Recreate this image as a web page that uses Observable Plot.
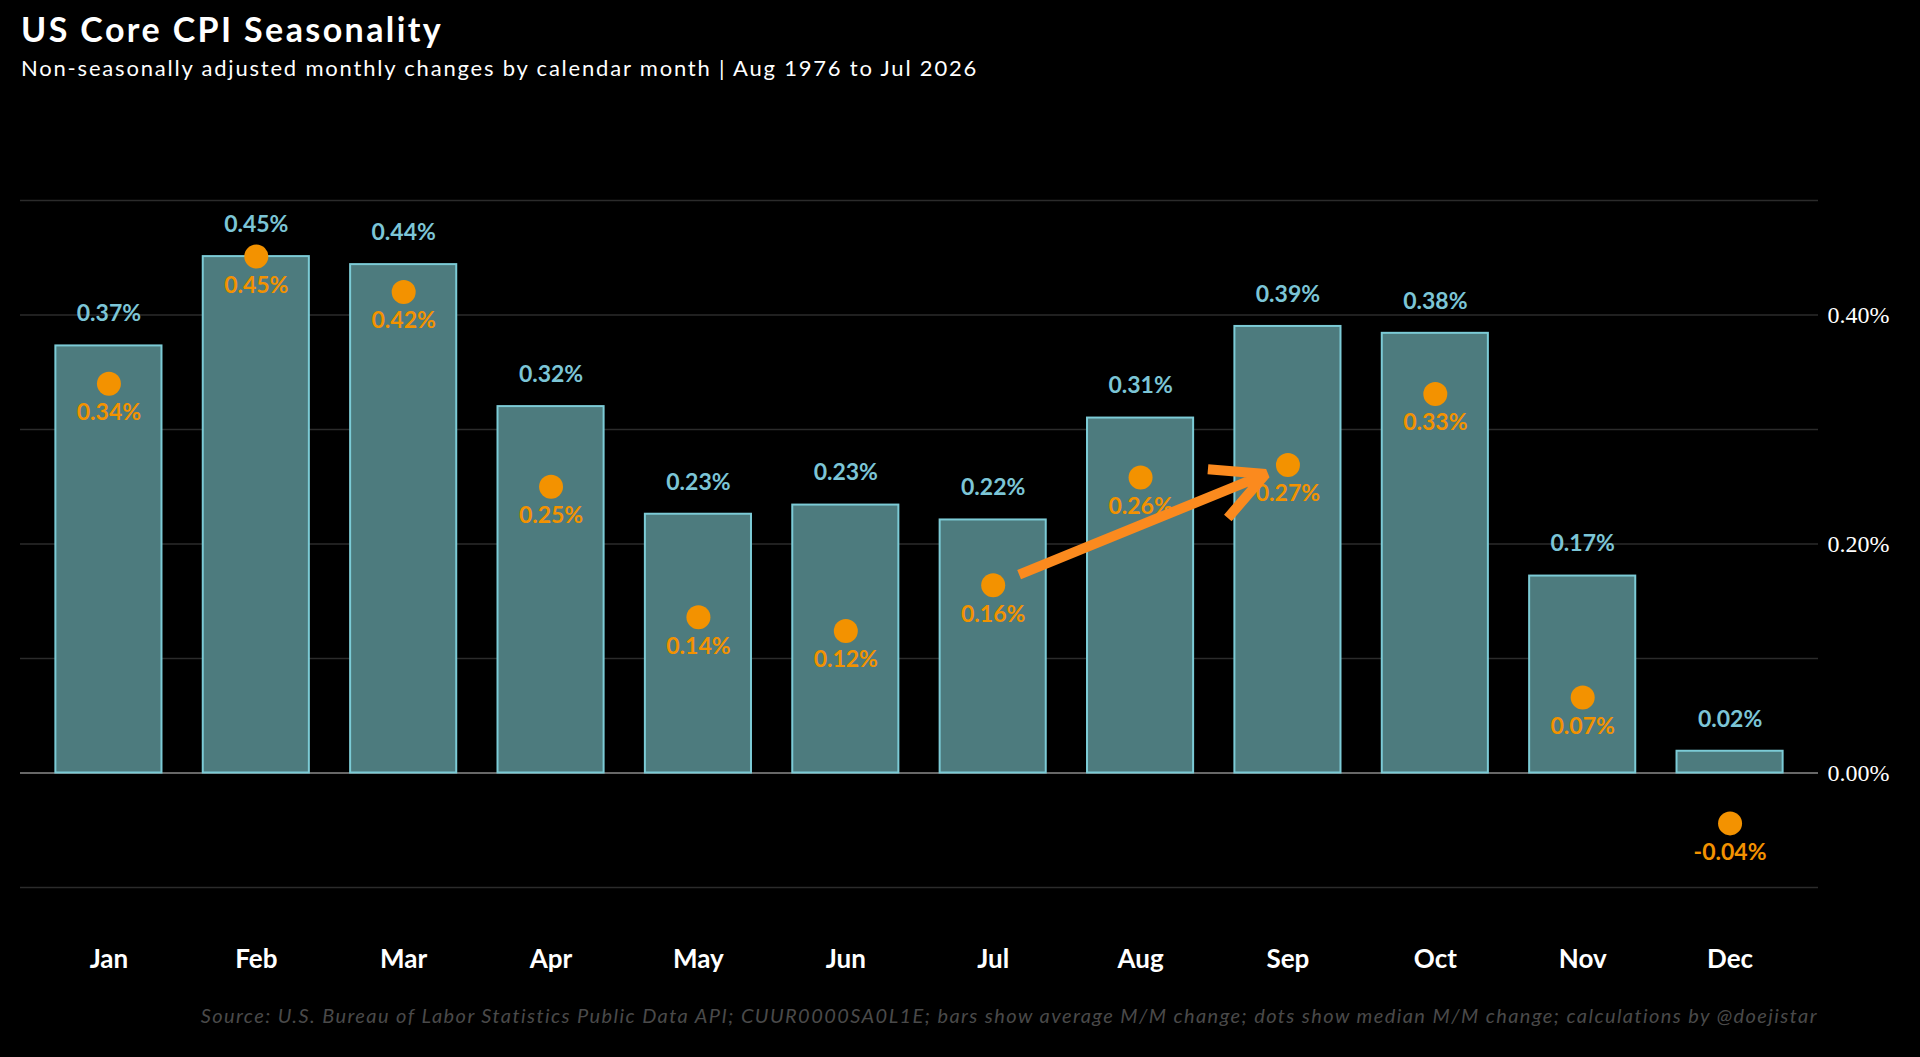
<!DOCTYPE html>
<html><head><meta charset="utf-8">
<script src="https://cdn.jsdelivr.net/npm/d3@7"></script>
<script src="https://cdn.jsdelivr.net/npm/@observablehq/plot@0.6"></script>
<style>
html,body{margin:0;padding:0;background:#000;}
body{width:1920px;height:1057px;position:relative;overflow:hidden;font-family:Lato,sans-serif;}
#title{position:absolute;left:21px;top:9px;color:#fff;font-weight:bold;font-size:34px;line-height:1.2;letter-spacing:2.4px;white-space:nowrap;}
#subtitle{position:absolute;left:21px;top:55px;color:#fff;font-size:22px;line-height:1.2;letter-spacing:1.8px;white-space:nowrap;}
#chart{position:absolute;left:0;top:100px;}
#caption{position:absolute;right:102px;top:1003px;color:#4a4a4a;font-style:italic;font-size:20px;line-height:1.2;letter-spacing:1.42px;white-space:nowrap;}
</style>
</head><body>
<div id="title">US Core CPI Seasonality</div>
<div id="subtitle">Non-seasonally adjusted monthly changes by calendar month | Aug 1976 to Jul 2026</div>
<div id="chart"></div>
<div id="caption">Source: U.S. Bureau of Labor Statistics Public Data API; CUUR0000SA0L1E; bars show average M/M change; dots show median M/M change; calculations by @doejistar</div>
<script>
const months = ["Jan","Feb","Mar","Apr","May","Jun","Jul","Aug","Sep","Oct","Nov","Dec"];
const avgChange = [0.373,0.451,0.444,0.320,0.226,0.234,0.221,0.310,0.390,0.384,0.172,0.019];
const medianChange = [0.340,0.451,0.420,0.250,0.136,0.124,0.164,0.258,0.269,0.331,0.066,-0.044];
const yTicks = [0, 0.2, 0.4];
const gridTicks = [-0.1, 0.1, 0.2, 0.3, 0.4, 0.5];
const arrowFrom = "Jul";
const arrowTo = "Sep";

const data = months.map((m, i) => ({month: m, avg: avgChange[i], med: medianChange[i]}));
const pct = v => v.toFixed(2) + "%";
const arrowData = [{
  x1: arrowFrom, y1: medianChange[months.indexOf(arrowFrom)],
  x2: arrowTo, y2: medianChange[months.indexOf(arrowTo)]
}];

const chart = Plot.plot({
  width: 1920,
  height: 900,
  marginTop: 100,
  marginBottom: 113,
  marginLeft: 20,
  marginRight: 102,
  style: {background: "#000", color: "#fff", fontFamily: "Lato, sans-serif", overflow: "visible"},
  x: {domain: months, paddingInner: 0.28, paddingOuter: 0.24, round: false, axis: null},
  y: {domain: [-0.1, 0.5], axis: null},
  marks: [
    Plot.ruleY(gridTicks, {stroke: "#2b2b2b", strokeWidth: 1.3}),
    Plot.ruleY([0], {stroke: "#8a8a8a", strokeWidth: 1.3}),
    Plot.barY(data, {x: "month", y: "avg", fill: "#4d7b7e", stroke: "#7ccbd6", strokeWidth: 2}),
    Plot.axisY(yTicks, {anchor: "right", tickSize: 0, tickPadding: 9, tickFormat: pct,
      fontSize: 24, fontFamily: "Liberation Serif", fill: "#fff", label: null}),
    Plot.axisX({anchor: "bottom", tickSize: 0, tickPadding: 62, fontSize: 26,
      fontWeight: "bold", fill: "#fff", label: null, letterSpacing: 1}),
    Plot.text(data, {x: "month", y: "avg", text: d => pct(d.avg), dy: -32,
      fill: "#7cc5d6", fontSize: 23, fontWeight: "bold", letterSpacing: 0.5}),
    Plot.dot(data, {x: "month", y: "med", r: 12, fill: "#f39200"}),
    Plot.text(data, {x: "month", y: "med", text: d => pct(d.med), dy: 29,
      fill: "#f39200", fontSize: 23, fontWeight: "bold", letterSpacing: 0.5}),
    Plot.arrow(arrowData, {x1: "x1", y1: "y1", x2: "x2", y2: "y2",
      stroke: "#fb8a1e", strokeWidth: 10, headLength: 8.7, headAngle: 54,
      insetStart: 28, insetEnd: 24, strokeLinecap: "butt", strokeLinejoin: "miter"})
  ]
});
document.getElementById("chart").appendChild(chart);
</script>
</body></html>
